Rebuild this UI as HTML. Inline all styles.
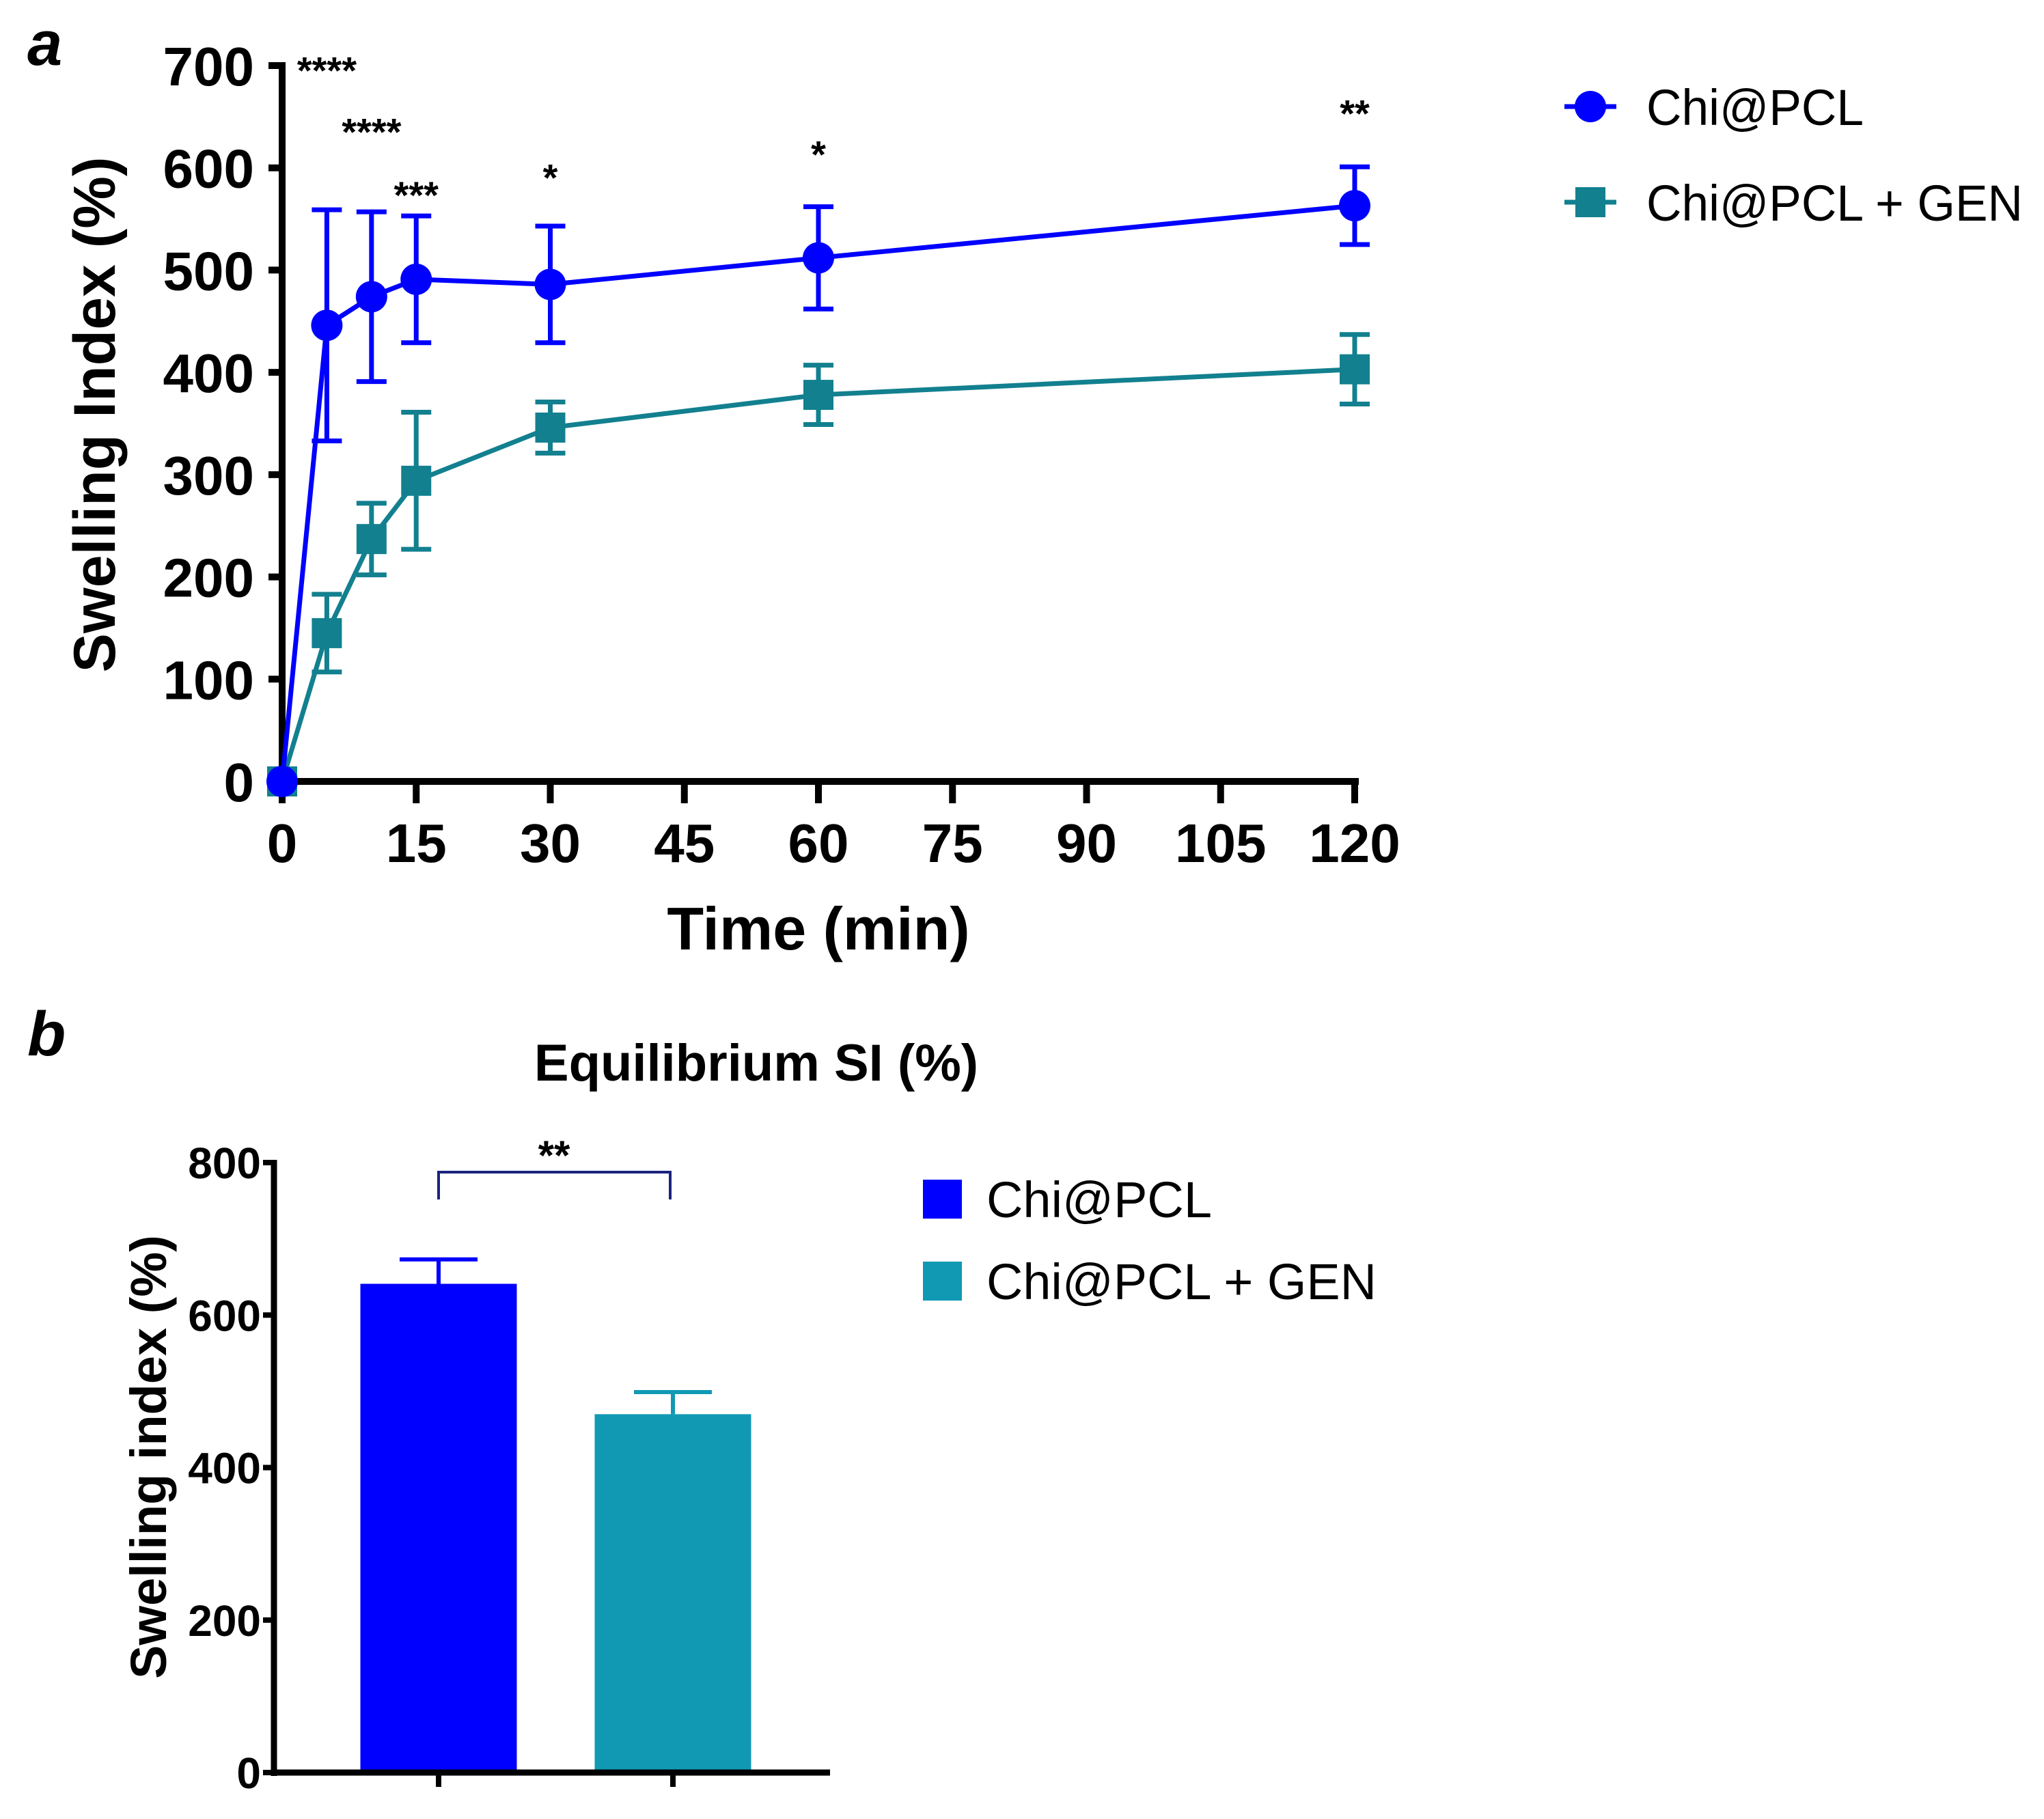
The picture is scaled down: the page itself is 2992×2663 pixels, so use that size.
<!DOCTYPE html>
<html><head><meta charset="utf-8"><style>
html,body{margin:0;padding:0;background:#fff;}
svg{display:block;font-family:"Liberation Sans",Arial,sans-serif;}
</style></head><body>
<svg id="fig" width="2992" height="2663" viewBox="0 0 2992 2663" xmlns="http://www.w3.org/2000/svg"></svg>
<script>
// ---- Chart a data ----
const timesA = [0, 5, 10, 15, 30, 60, 120];
const chiMean = [0, 446, 474, 491, 486, 512, 563];
const chiErr = [0, 113, 83, 62, 57, 50, 38];
const genMean = [0, 145, 237, 294, 346, 378, 403];
const genErr = [0, 38, 35, 67, 25, 29, 34];
const xTicksA = [0, 15, 30, 45, 60, 75, 90, 105, 120];
const yTicksA = [0, 100, 200, 300, 400, 500, 600, 700];
const sigLabels = ["****", "****", "***", "*", "*", "**"];
const sigTimes = [5, 10, 15, 30, 60, 120];
const sigValues = [705, 645, 583, 600, 623, 663];
// ---- Chart b data ----
const barCats = ["Chi@PCL", "Chi@PCL + GEN"];
const barMean = [641, 470];
const barErr = [32, 29];
const yTicksB = [0, 200, 400, 600, 800];

const NS = "http://www.w3.org/2000/svg";
const svg = document.getElementById('fig');
function mk(tag, attrs, parent, text) {
  const e = document.createElementNS(NS, tag);
  for (const k in attrs) e.setAttribute(k, attrs[k]);
  if (text !== undefined) e.textContent = text;
  (parent || svg).appendChild(e);
  return e;
}
const BLUE = "#0000ff", TEAL = "#12808f", TEALBAR = "#1199b4";

// ===== Chart a =====
const ax = v => 413 + (v / 120) * 1570;
const ay = v => 1144 - (v / 700) * 1048;
const ga = mk('g', {});


let t = mk('text', {x: 40, y: 95, 'font-size': 92, 'font-weight': 'bold', 'font-style': 'italic'}, ga, 'a');
 
let yAxis = mk('line', {x1: 413, y1: ay(700) - 5, x2: 413, y2: 1149, stroke: '#000', 'stroke-width': 10}, ga);
 
let xAxis = mk('line', {x1: 408, y1: 1144, x2: 1989, y2: 1144, stroke: '#000', 'stroke-width': 10}, ga);
 
yTicksA.forEach(v => {
  const l = mk('line', {x1: 393, y1: ay(v), x2: 413, y2: ay(v), stroke: '#000', 'stroke-width': 10}, ga);
   
  const tx = mk('text', {x: 372, y: ay(v) + 29, 'font-size': 80, 'font-weight': 'bold', 'text-anchor': 'end'}, ga, String(v));
   
});
xTicksA.forEach(v => {
  const l = mk('line', {x1: ax(v), y1: 1144, x2: ax(v), y2: 1176, stroke: '#000', 'stroke-width': 10}, ga);
   
  const tx = mk('text', {x: ax(v), y: 1262, 'font-size': 80, 'font-weight': 'bold', 'text-anchor': 'middle'}, ga, String(v));
   
});
t = mk('text', {x: 1198, y: 1390, 'font-size': 88, 'font-weight': 'bold', 'text-anchor': 'middle'}, ga, 'Time (min)');
 
t = mk('text', {x: 0, y: 0, 'font-size': 86, 'font-weight': 'bold', 'text-anchor': 'middle', transform: 'translate(168,607) rotate(-90)'}, ga, 'Swelling Index (%)');
 

function series(mean, err, color, shape, name) {
  const g = mk('g', {}, ga);
  
  
  const pts = timesA.map((x, i) => ax(x) + ',' + ay(mean[i])).join(' ');
  const pl = mk('polyline', {points: pts, fill: 'none', stroke: color, 'stroke-width': 7}, g);
   
  timesA.forEach((x, i) => {
    if (err[i] > 0) {
      const cx = ax(x), hi = ay(mean[i] + err[i]), lo = ay(mean[i] - err[i]);
      const eb = mk('path', {d: `M${cx},${hi}V${lo}M${cx-22},${hi}H${cx+22}M${cx-22},${lo}H${cx+22}`, stroke: color, 'stroke-width': 7, fill: 'none'}, g);
       
    }
  });
  timesA.forEach((x, i) => {
    let m;
    if (shape === 'circle') m = mk('circle', {cx: ax(x), cy: ay(mean[i]), r: 23, fill: color}, g);
    else m = mk('rect', {x: ax(x) - 22, y: ay(mean[i]) - 22, width: 44, height: 44, fill: color}, g);
     
  });
}
series(genMean, genErr, TEAL, 'square', 'series-chi-pcl-gen');
series(chiMean, chiErr, BLUE, 'circle', 'series-chi-pcl');
sigLabels.forEach((s, i) => {
  const tx = mk('text', {x: ax(sigTimes[i]), y: ay(sigValues[i]) + 34, 'font-size': 56, 'font-weight': 'bold', 'text-anchor': 'middle'}, ga, s);
   
});
const la = mk('g', {}, ga);
 
mk('line', {x1: 2290, y1: 156, x2: 2366, y2: 156, stroke: BLUE, 'stroke-width': 7}, la);
let lm = mk('circle', {cx: 2328, cy: 156, r: 23, fill: BLUE}, la);
 
t = mk('text', {x: 2410, y: 183, 'font-size': 74, textLength: 318, lengthAdjust: 'spacingAndGlyphs'}, la, 'Chi@PCL');
 
mk('line', {x1: 2290, y1: 296, x2: 2366, y2: 296, stroke: TEAL, 'stroke-width': 7}, la);
lm = mk('rect', {x: 2306, y: 274, width: 44, height: 44, fill: TEAL}, la);
 
t = mk('text', {x: 2410, y: 323, 'font-size': 74, textLength: 551, lengthAdjust: 'spacingAndGlyphs'}, la, 'Chi@PCL + GEN');
 

// ===== Chart b =====
const by = v => 2595 - (v / 800) * 893;
const barCenters = [642, 985];
const gb = mk('g', {});


t = mk('text', {x: 40, y: 1545, 'font-size': 92, 'font-weight': 'bold', 'font-style': 'italic'}, gb, 'b');
 
t = mk('text', {x: 1107, y: 1582, 'font-size': 76, 'font-weight': 'bold', 'text-anchor': 'middle'}, gb, 'Equilibrium SI (%)');
 
barCats.forEach((c, i) => {
  const w = 229, cx = barCenters[i], col = i === 0 ? BLUE : TEALBAR;
  const r = mk('rect', {x: cx - w / 2, y: by(barMean[i]), width: w, height: by(0) - by(barMean[i]), fill: col}, gb);
   
  const top = by(barMean[i] + barErr[i]);
  const eb = mk('path', {d: `M${cx},${by(barMean[i])}V${top}M${cx-57},${top}H${cx+57}`, stroke: col, 'stroke-width': 6, fill: 'none'}, gb);
   
  const tk = mk('line', {x1: cx, y1: 2595, x2: cx, y2: 2616, stroke: '#000', 'stroke-width': 8}, gb);
   
});
yAxis = mk('line', {x1: 401, y1: by(800) - 4, x2: 401, y2: 2600, stroke: '#000', 'stroke-width': 9}, gb);
 
xAxis = mk('line', {x1: 397, y1: 2595, x2: 1215, y2: 2595, stroke: '#000', 'stroke-width': 9}, gb);
 
yTicksB.forEach(v => {
  const l = mk('line', {x1: 385, y1: by(v), x2: 401, y2: by(v), stroke: '#000', 'stroke-width': 8}, gb);
   
  const tx = mk('text', {x: 382, y: by(v) + 23, 'font-size': 64, 'font-weight': 'bold', 'text-anchor': 'end'}, gb, String(v));
   
});
t = mk('text', {x: 0, y: 0, 'font-size': 74, 'font-weight': 'bold', 'text-anchor': 'middle', transform: 'translate(243,2133) rotate(-90)'}, gb, 'Swelling index (%)');
 
const br = mk('path', {d: `M${barCenters[0]},1756V1716H${barCenters[1] - 4}V1756`, stroke: '#1a237e', 'stroke-width': 4, fill: 'none'}, gb);
 
t = mk('text', {x: 811, y: 1712, 'font-size': 60, 'font-weight': 'bold', 'text-anchor': 'middle'}, gb, '**');
 
const lb = mk('g', {}, gb);
 
lm = mk('rect', {x: 1351, y: 1727, width: 57, height: 57, fill: BLUE}, lb);
 
t = mk('text', {x: 1444, y: 1782, 'font-size': 74, textLength: 330, lengthAdjust: 'spacingAndGlyphs'}, lb, 'Chi@PCL');
 
lm = mk('rect', {x: 1351, y: 1847, width: 57, height: 57, fill: TEALBAR}, lb);
 
t = mk('text', {x: 1444, y: 1902, 'font-size': 74, textLength: 571, lengthAdjust: 'spacingAndGlyphs'}, lb, 'Chi@PCL + GEN');
 
</script>
</body></html>
